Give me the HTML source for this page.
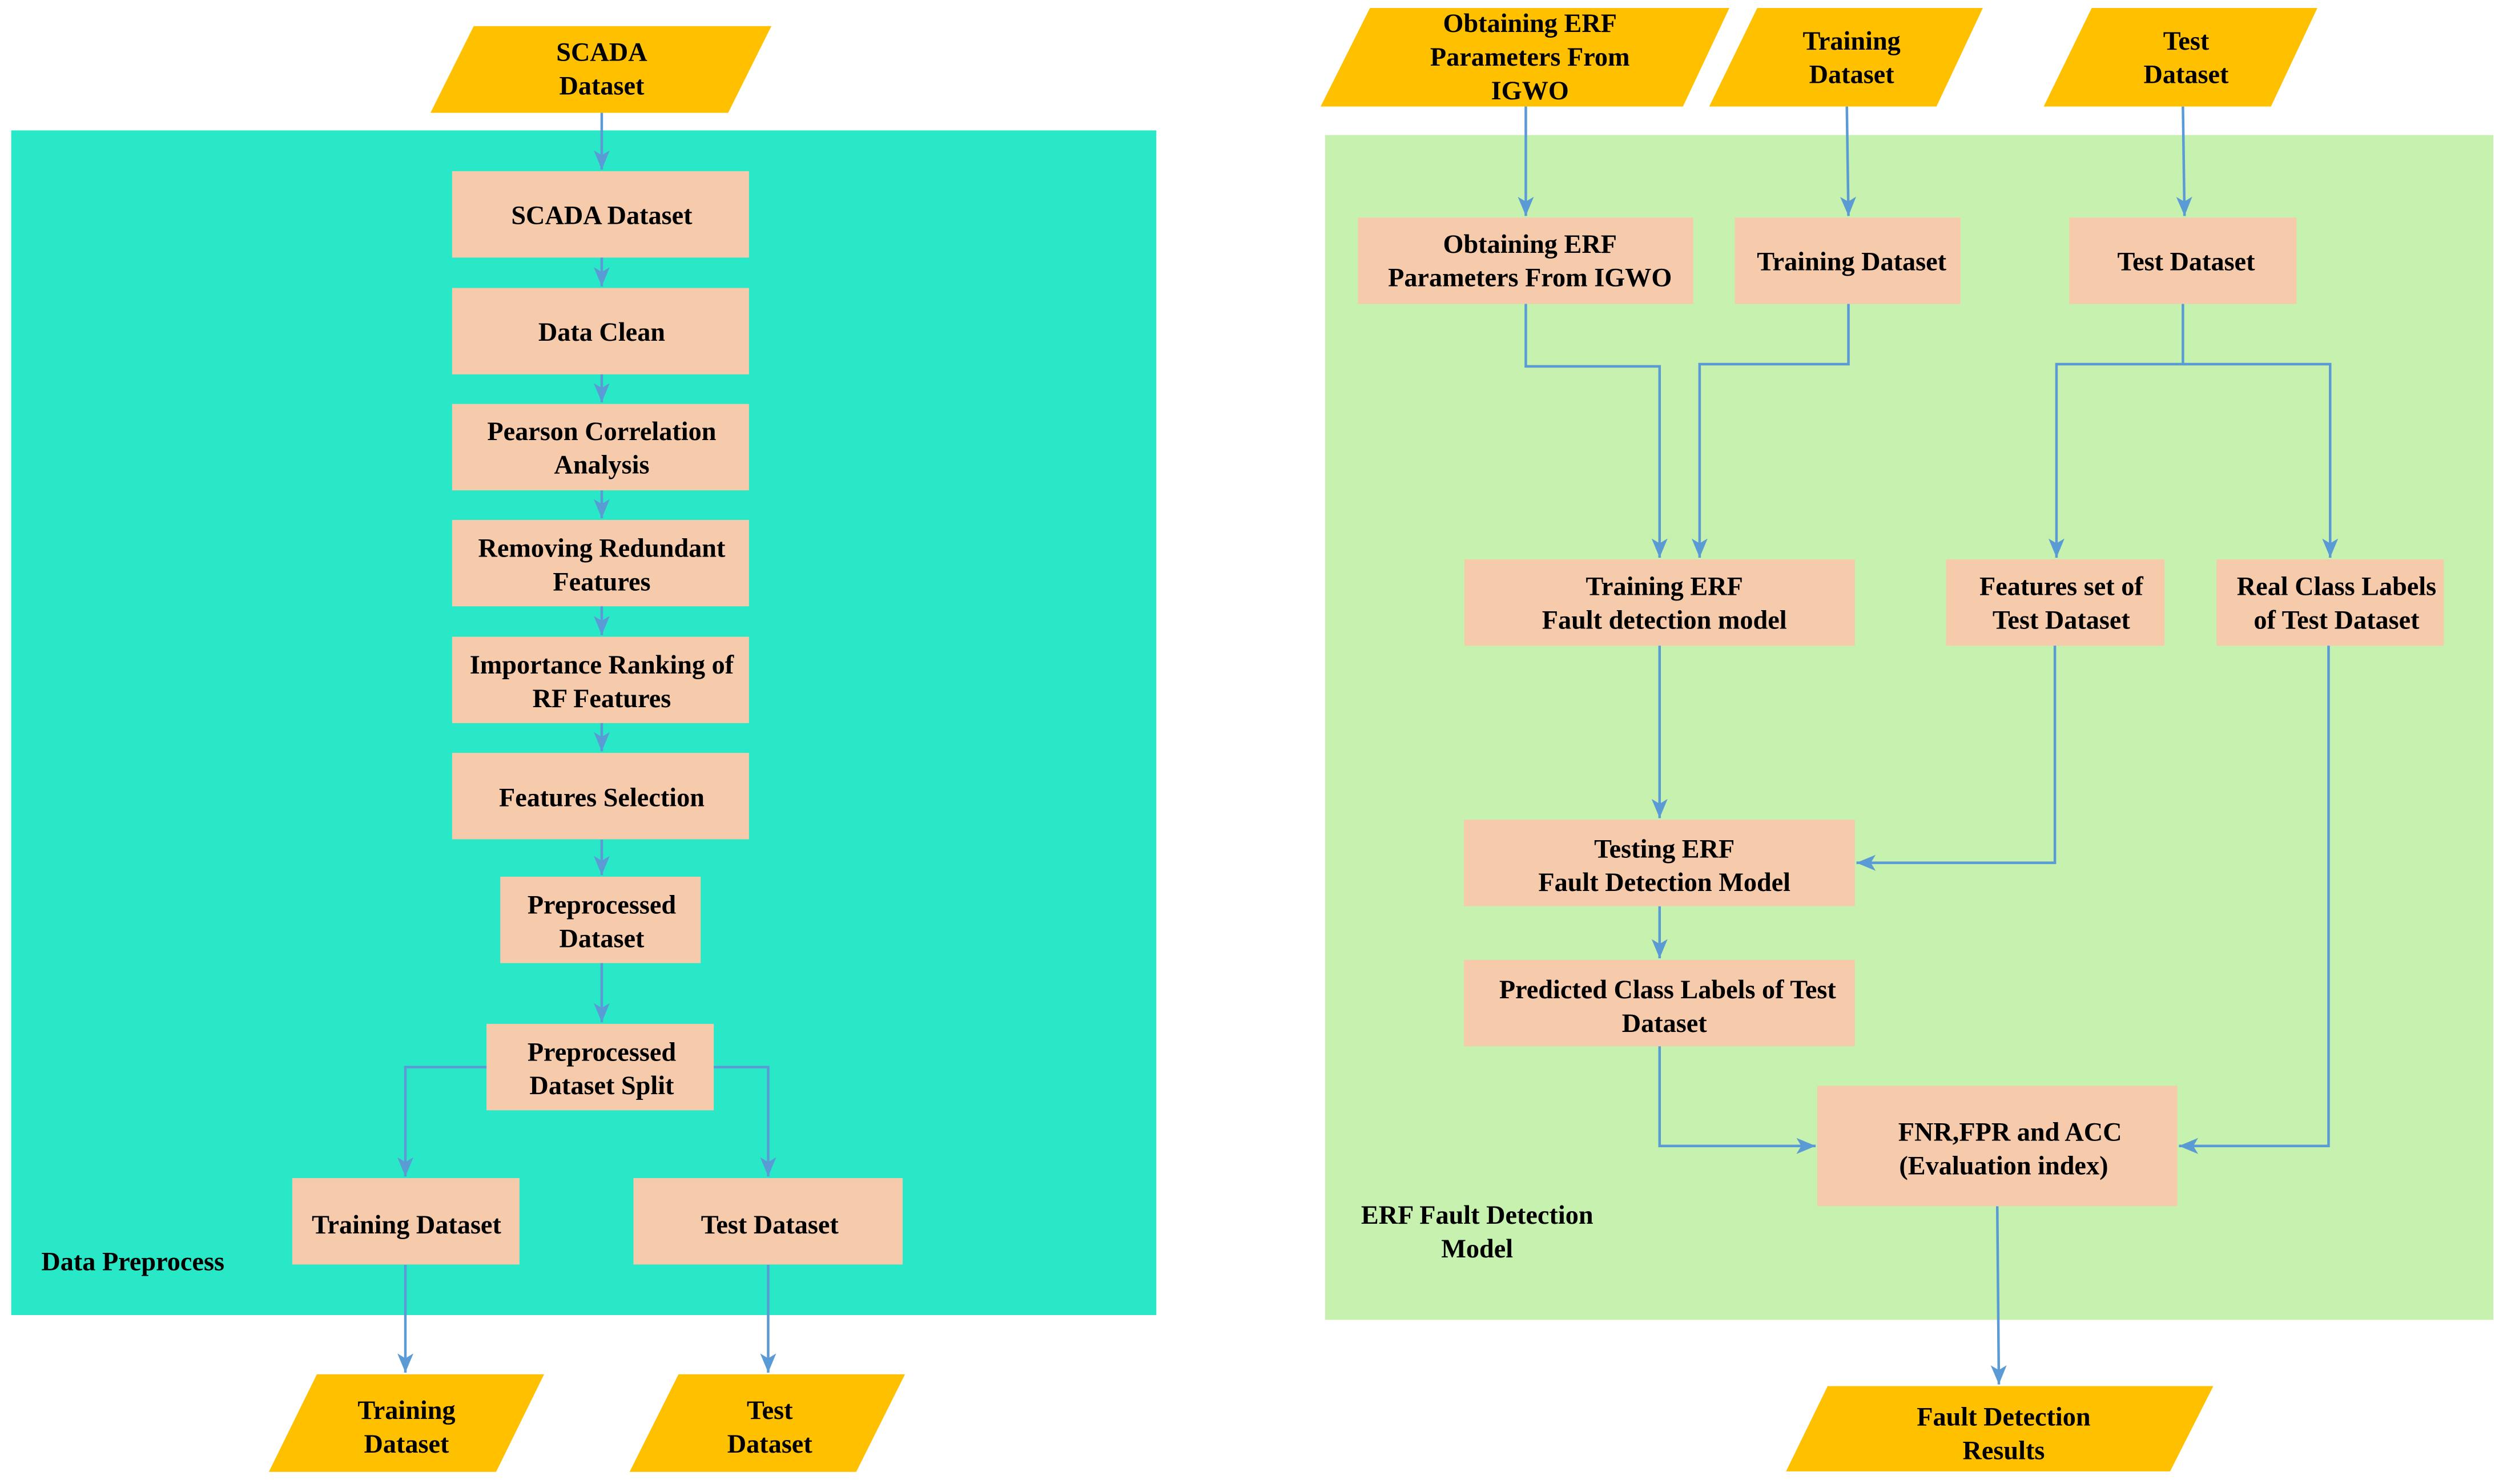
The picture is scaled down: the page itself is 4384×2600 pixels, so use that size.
<!DOCTYPE html>
<html><head><meta charset="utf-8"><style>
html,body{margin:0;padding:0;background:#fff;}
svg{display:block;}
text{font-family:"Liberation Serif",serif;font-weight:bold;font-size:16.5px;fill:#000;text-anchor:middle;}
</style></head><body>
<svg width="4384" height="2600" viewBox="0 0 1564 927.6" preserveAspectRatio="none" xmlns="http://www.w3.org/2000/svg">
<defs>
<marker id="a" markerUnits="userSpaceOnUse" markerWidth="14" markerHeight="14" refX="12" refY="5" orient="auto">
<path d="M0,0 L12,5 L0,10 L3,5 Z" fill="#5B9BD5"/>
</marker>
</defs>
<rect x="0" y="0" width="1564" height="928" fill="#fff"/>
<!-- left panel -->
<rect x="7" y="81.5" width="715.5" height="740.5" fill="#28E8C8"/>
<!-- right panel -->
<rect x="828" y="84.4" width="730" height="740.6" fill="#C6F1AE"/>

<g fill="#FFC000">
<polygon points="296,16.3 482,16.3 455,70.5 269,70.5"/>
<polygon points="198,859 340,859 310,920 168,920"/>
<polygon points="424,859 565.5,859 535,920 393.4,920"/>
<polygon points="856,5 1080.6,5 1051.6,66.6 825.2,66.6"/>
<polygon points="1098,5 1239,5 1210,66.6 1068,66.6"/>
<polygon points="1307,5 1448,5 1419,66.6 1277,66.6"/>
<polygon points="1142,866.4 1383,866.4 1356,919.7 1116,919.7"/>
</g>

<g fill="#F6CBAC">
<rect x="282.5" y="107" width="185.5" height="54"/>
<rect x="282.5" y="180" width="185.5" height="54"/>
<rect x="282.5" y="252.5" width="185.5" height="54"/>
<rect x="282.5" y="325" width="185.5" height="54"/>
<rect x="282.5" y="398" width="185.5" height="54"/>
<rect x="282.5" y="470.6" width="185.5" height="54"/>
<rect x="312.6" y="548" width="125.2" height="54"/>
<rect x="304" y="640" width="142" height="54"/>
<rect x="182.6" y="736.4" width="142" height="54"/>
<rect x="395.8" y="736.4" width="168.2" height="54"/>
<rect x="848.5" y="136" width="209.5" height="54"/>
<rect x="1084" y="136" width="141" height="54"/>
<rect x="1293" y="136" width="142" height="54"/>
<rect x="915" y="349.6" width="244" height="54"/>
<rect x="1216" y="349.6" width="136.5" height="54"/>
<rect x="1385" y="349.6" width="142" height="54"/>
<rect x="914.7" y="512.4" width="244.3" height="54"/>
<rect x="914.7" y="600" width="244.3" height="54"/>
<rect x="1135.5" y="678.7" width="225" height="75.2"/>
</g>

<g stroke="#5B9BD5" stroke-width="1.6" fill="none" marker-end="url(#a)">
<path d="M376,70.5 V106"/>
<path d="M376,161 V179"/>
<path d="M376,234 V251.5"/>
<path d="M376,306.5 V324"/>
<path d="M376,379 V397"/>
<path d="M376,452 V469.6"/>
<path d="M376,524.8 V547"/>
<path d="M376,602 V639"/>
<path d="M304,667 H253.3 V735.4"/>
<path d="M446,667 H480 V735.4"/>
<path d="M253.3,790.6 V858"/>
<path d="M480,790.6 V858"/>
<path d="M953.4,66.6 V135"/>
<path d="M1154,66.6 L1155,135"/>
<path d="M1364,66.6 L1365,135"/>
<path d="M953.4,190 V229 H1037 V348.6"/>
<path d="M1155,190 V227.6 H1062 V348.6"/>
<path d="M1364,190 V227.6 H1285 V348.6"/>
<path d="M1364,227.6 H1456 V348.6"/>
<path d="M1037,403.6 V511.4"/>
<path d="M1284,403.6 V539.3 H1160"/>
<path d="M1037,566.5 V599"/>
<path d="M1037,654 V716.3 H1134.5"/>
<path d="M1455,403.6 V716.3 H1361.5"/>
<path d="M1248,754 L1249,865.4"/>
</g>

<text x="376" y="38">SCADA</text><text x="376" y="59">Dataset</text>
<text x="376" y="140">SCADA Dataset</text>
<text x="376" y="213">Data Clean</text>
<text x="376" y="275">Pearson Correlation</text><text x="376" y="296">Analysis</text>
<text x="376" y="348">Removing Redundant</text><text x="376" y="369">Features</text>
<text x="376" y="421">Importance Ranking of</text><text x="376" y="442">RF Features</text>
<text x="376" y="504">Features Selection</text>
<text x="376" y="571">Preprocessed</text><text x="376" y="592">Dataset</text>
<text x="376" y="663">Preprocessed</text><text x="376" y="684">Dataset Split</text>
<text x="254" y="771">Training Dataset</text>
<text x="481" y="771">Test Dataset</text>
<text x="83" y="794">Data Preprocess</text>
<text x="254" y="887">Training</text><text x="254" y="908">Dataset</text>
<text x="481" y="887">Test</text><text x="481" y="908">Dataset</text>

<text x="956" y="20">Obtaining  ERF</text><text x="956" y="41">Parameters From</text><text x="956" y="62">IGWO</text>
<text x="1157" y="31">Training</text><text x="1157" y="52">Dataset</text>
<text x="1366" y="31">Test</text><text x="1366" y="52">Dataset</text>
<text x="956" y="158">Obtaining ERF</text><text x="956" y="179">Parameters From IGWO</text>
<text x="1157" y="169">Training Dataset</text>
<text x="1366" y="169">Test Dataset</text>
<text x="1040" y="372">Training ERF</text><text x="1040" y="393">Fault detection  model</text>
<text x="1288" y="372">Features set of</text><text x="1288" y="393">Test Dataset</text>
<text x="1460" y="372">Real Class Labels</text><text x="1460" y="393">of Test Dataset</text>
<text x="1040" y="536">Testing ERF</text><text x="1040" y="557">Fault Detection  Model</text>
<text x="1042" y="624">Predicted Class Labels of Test</text><text x="1040" y="645">Dataset</text>
<text x="1256" y="713">FNR,FPR and ACC</text><text x="1252" y="734">(Evaluation index)</text>
<text x="923" y="765">ERF Fault Detection</text><text x="923" y="786">Model</text>
<text x="1252" y="891">Fault Detection</text><text x="1252" y="912">Results</text>
</svg>
</body></html>
